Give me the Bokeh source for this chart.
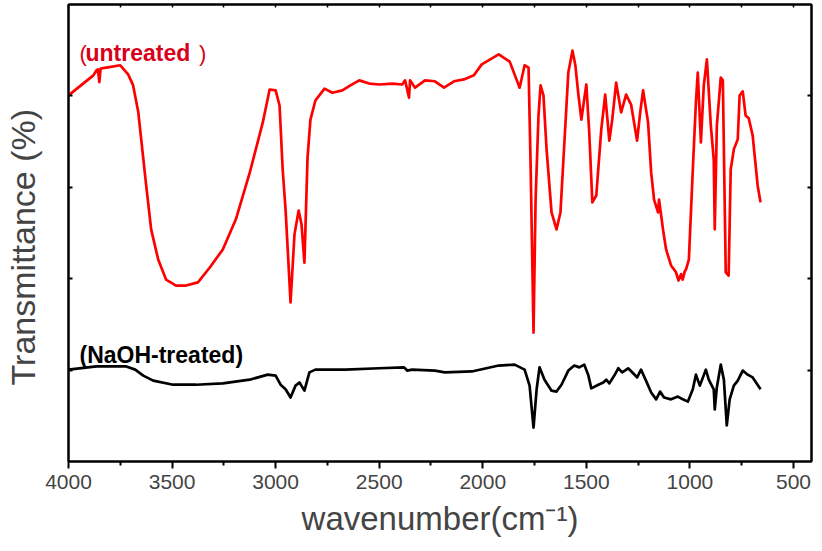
from bokeh.plotting import figure
from bokeh.models import Range1d, LinearAxis, FixedTicker, Label, CustomJSTickFormatter
from bokeh.embed import file_html
from bokeh.resources import INLINE

# ---- data ----
red_wn = [4000, 3880, 3865, 3858, 3851, 3845, 3817, 3750, 3712, 3688, 3663, 3649, 3625, 3601, 3567,
          3529, 3481, 3433, 3375, 3317, 3255, 3192, 3125, 3062, 3029, 3000, 2981, 2966, 2952,
          2928, 2909, 2889, 2875, 2861, 2846, 2832, 2808, 2764, 2726, 2678, 2639, 2596, 2548,
          2500, 2437, 2389, 2375, 2356, 2351, 2327, 2279, 2231, 2187, 2139, 2091, 2043, 2005,
          1923, 1870, 1822, 1798, 1779, 1769, 1755, 1745, 1731, 1721, 1707, 1692, 1668, 1644,
          1625, 1606, 1587, 1567, 1553, 1538, 1524, 1500, 1486, 1471, 1452, 1428, 1409, 1389,
          1375, 1356, 1332, 1308, 1284, 1255, 1240, 1226, 1202, 1187, 1173, 1154, 1149, 1130,
          1115, 1091, 1067, 1055, 1043, 1035, 1025, 1019, 1005, 986, 971, 962, 947, 933, 918,
          899, 885, 880, 870, 851, 841, 827, 813, 803, 788, 769, 760, 745, 731, 716, 697, 673, 659]
red_t = [80.1, 84.5, 85.6, 85.8, 83.0, 86.0, 86.2, 86.7, 84.7, 82.3, 76.4, 70.5, 60.4, 50.8, 44.2,
         39.8, 38.5, 38.5, 39.2, 42.5, 46.4, 53.0, 63.2, 74.2, 81.4, 81.2, 77.9, 63.9, 55.1,
         34.8, 49.7, 54.9, 51.9, 43.5, 66.5, 74.8, 79.0, 81.6, 80.7, 81.2, 82.3, 83.4, 82.7,
         82.5, 82.7, 82.5, 83.4, 79.6, 83.4, 81.8, 83.4, 83.2, 81.8, 83.2, 83.6, 84.5, 86.9,
         89.1, 87.5, 81.8, 86.7, 86.2, 64.8, 28.2, 57.3, 75.7, 82.3, 80.1, 68.3, 54.5, 50.8,
         54.5, 69.8, 85.1, 89.9, 86.7, 80.1, 74.8, 82.5, 72.0, 56.7, 58.2, 72.6, 80.3, 70.2,
         74.8, 82.9, 76.4, 80.3, 78.1, 70.2, 76.4, 81.2, 74.2, 63.2, 57.3, 54.5, 57.3, 50.8,
         46.4, 42.9, 41.4, 39.6, 41.0, 39.8, 41.6, 42.0, 44.2, 63.9, 78.6, 85.1, 69.8, 82.3, 88.0,
         73.5, 66.1, 50.8, 73.5, 84.0, 83.4, 41.4, 40.7, 63.9, 68.3, 70.5, 80.1, 81.0, 75.7, 75.1,
         71.3, 60.4, 56.7]

black_wn = [4000, 3865, 3721, 3678, 3639, 3591, 3495, 3385, 3255, 3125, 3038, 3000, 2976, 2952,
            2928, 2904, 2885, 2861, 2837, 2808, 2663, 2500, 2380, 2365, 2341, 2231, 2183, 2053,
            1923, 1846, 1798, 1774, 1755, 1740, 1726, 1702, 1668, 1644, 1620, 1587, 1558, 1534,
            1510, 1490, 1476, 1442, 1418, 1404, 1389, 1365, 1346, 1327, 1298, 1274, 1255, 1236,
            1212, 1187, 1163, 1144, 1125, 1091, 1058, 1034, 1010, 986, 971, 952, 923, 909, 885,
            880, 870, 851, 836, 822, 808, 788, 769, 745, 721, 697, 659]
black_t = [20.1, 20.8, 20.8, 20.1, 18.8, 17.7, 16.8, 16.8, 17.1, 17.9, 19.0, 18.8, 16.8, 15.8,
           14.0, 16.6, 17.3, 15.5, 19.5, 20.1, 20.1, 20.4, 20.6, 19.9, 20.1, 19.9, 19.5, 19.7,
           21.0, 21.2, 20.1, 16.6, 7.4, 15.8, 20.6, 17.9, 15.5, 15.3, 16.8, 19.9, 21.0, 20.6,
           21.2, 18.8, 16.0, 16.8, 17.3, 17.9, 17.1, 18.8, 20.4, 19.5, 20.4, 19.3, 18.4, 20.1,
           17.7, 15.1, 13.6, 15.3, 14.0, 13.6, 14.2, 13.6, 13.1, 15.8, 19.0, 16.6, 20.1, 17.9, 15.8,
           11.4, 16.2, 21.2, 17.9, 7.9, 13.6, 16.6, 17.7, 19.9, 19.0, 18.4, 15.8]

x_ticks = [4000, 3500, 3000, 2500, 2000, 1500, 1000, 500]
x_minor = [3750, 3250, 2750, 2250, 1750, 1250, 750]
y_ticks = [20, 40, 60, 80]

FONT = "Liberation Sans"

p = figure(width=814, height=543, output_backend="svg", toolbar_location=None,
           x_range=Range1d(4000, 413), y_range=Range1d(0, 100),
           min_border_left=67, min_border_right=3, min_border_top=4, min_border_bottom=82)
p.grid.visible = False
p.outline_line_color = "black"
p.outline_line_width = 2
p.background_fill_color = "white"
p.border_fill_color = "white"

xt = FixedTicker(ticks=x_ticks, minor_ticks=x_minor)
yt = FixedTicker(ticks=y_ticks, minor_ticks=[])
blank = CustomJSTickFormatter(code="return ''")

ax = p.xaxis[0]
ax.ticker = xt
ax.axis_line_width = 2
ax.major_tick_line_width = 2
ax.minor_tick_line_width = 2
ax.major_tick_out = 7
ax.major_tick_in = 0
ax.minor_tick_out = 4
ax.minor_tick_in = 0
ax.major_label_text_font = FONT
ax.major_label_text_font_size = "21px"
ax.major_label_standoff = 6
ax.axis_label = "wavenumber(cm\u207b\u00b9)"
ax.axis_label_text_font = FONT
ax.axis_label_text_font_size = "33px"
ax.axis_label_text_font_style = "normal"
ax.axis_label_standoff = 8

ay = p.yaxis[0]
ay.ticker = yt
ay.formatter = blank
ay.axis_line_width = 2
ay.major_tick_line_width = 2
ay.major_tick_in = 4
ay.major_tick_out = 0
ay.minor_tick_in = 0
ay.minor_tick_out = 0
ay.major_label_text_font_size = "0px"
ay.major_label_standoff = 0
# trailing no-break spaces push the title a little below the frame's centre, as in the reference
ay.axis_label = "Transmittance (%)\u00a0\u00a0\u00a0"
ay.axis_label_text_font = FONT
ay.axis_label_text_font_size = "34px"
ay.axis_label_text_font_style = "normal"
ay.axis_label_standoff = 27

top = LinearAxis(ticker=xt, formatter=blank, major_tick_in=3, major_tick_out=0, minor_tick_in=3,
                 minor_tick_out=0, major_label_text_font_size="0px", major_label_standoff=0,
                 axis_line_width=2, major_tick_line_width=1.5, minor_tick_line_width=1.5)
right = LinearAxis(ticker=yt, formatter=blank, major_tick_in=4, major_tick_out=0, minor_tick_in=0,
                   minor_tick_out=0, major_label_text_font_size="0px", major_label_standoff=0,
                   axis_line_width=2, major_tick_line_width=2)
p.add_layout(top, "above")
p.add_layout(right, "right")

p.line(red_wn, red_t, line_color="#FF0000", line_width=2.7, line_join="round")
p.line(black_wn, black_t, line_color="#000000", line_width=2.7, line_join="round")

RED_TXT = "#D9001B"
p.add_layout(Label(x=3947, y=89.3, text="(", text_font=FONT, text_font_size="22px",
                   text_color=RED_TXT, text_baseline="alphabetic"))
p.add_layout(Label(x=3918, y=89.3, text="untreated", text_font=FONT, text_font_size="23px",
                   text_font_style="bold", text_color=RED_TXT, text_baseline="alphabetic"))
p.add_layout(Label(x=3370, y=89.3, text=")", text_font=FONT, text_font_size="22px",
                   text_color=RED_TXT, text_baseline="alphabetic"))
p.add_layout(Label(x=3947, y=23.4, text="(NaOH-treated)", text_font=FONT, text_font_size="23px",
                   text_font_style="bold", text_color="black", text_baseline="alphabetic"))

open("out.html", "w").write(file_html(p, INLINE))
